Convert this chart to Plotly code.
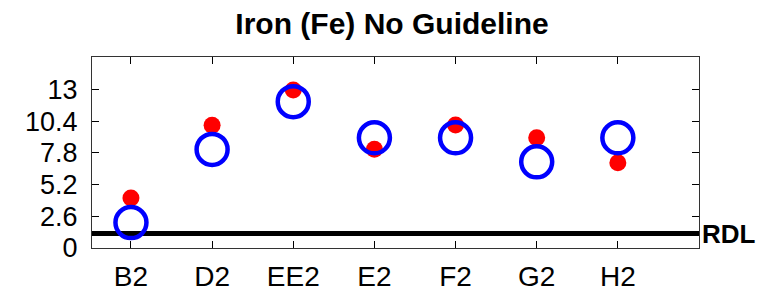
import plotly.graph_objects as go

categories = ["B2", "D2", "EE2", "E2", "F2", "G2", "H2"]
red_values = [4.1, 10.05, 12.95, 8.1, 10.07, 9.03, 6.98]
blue_values = [2.08, 8.08, 11.99, 9.03, 9.03, 7.06, 9.03]
rdl_value = 1.18
y_ticks = [0, 2.6, 5.2, 7.8, 10.4, 13]
y_tick_labels = ["0", "2.6", "5.2", "7.8", "10.4", "13"]

x_pos = list(range(1, len(categories) + 1))

# page body has an 8px margin, so the figure is 8px smaller than the window
W, H = 766, 284

fig = go.Figure()

fig.add_trace(go.Scatter(
    x=[0.52, 8.0], y=[rdl_value, rdl_value], mode="lines",
    line=dict(color="black", width=5), showlegend=False, hoverinfo="skip"))

fig.add_trace(go.Scatter(
    x=x_pos, y=red_values, mode="markers",
    marker=dict(color="#ff0000", size=17, line=dict(width=0)),
    showlegend=False))

fig.add_trace(go.Scatter(
    x=x_pos, y=blue_values, mode="markers",
    marker=dict(color="rgba(0,0,0,0)", size=31, line=dict(color="#0000ff", width=4.5)),
    showlegend=False))

fig.add_annotation(
    x=1, xref="paper", y=rdl_value, yref="y", text="<b>RDL</b>",
    showarrow=False, xanchor="left", yanchor="middle", xshift=1,
    font=dict(family="Arial, Liberation Sans", size=26, color="black"))

fig.update_layout(
    width=W, height=H,
    margin=dict(l=84, r=75, t=49, b=44, autoexpand=False),
    paper_bgcolor="white", plot_bgcolor="white",
    title=dict(text="<b>Iron (Fe) No Guideline</b>", x=384 / W, xanchor="center",
               y=1 - 15 / H, yanchor="middle", yref="container", automargin=False,
               font=dict(family="Arial, Liberation Sans", size=30, color="black")),
    font=dict(family="Arial, Liberation Sans", color="black"),
)

fig.update_xaxes(
    range=[0.52, 8.0], tickmode="array", tickvals=x_pos, ticktext=categories,
    ticks="inside", ticklen=7, tickcolor="black", mirror="allticks",
    showline=True, linecolor="#333", linewidth=1, showgrid=False, zeroline=False,
    automargin=False, ticklabelstandoff=3,
    tickfont=dict(size=28, family="Arial, Liberation Sans", color="black"))

fig.update_yaxes(
    range=[0, 15.65], tickmode="array", tickvals=y_ticks, ticktext=y_tick_labels,
    ticks="inside", ticklen=7, tickcolor="black", mirror="allticks",
    showline=True, linecolor="#333", linewidth=1, showgrid=False, zeroline=False,
    automargin=False, ticklabelstandoff=8,
    tickfont=dict(size=27, family="Arial, Liberation Sans", color="black"))

fig.write_html("out.html")
